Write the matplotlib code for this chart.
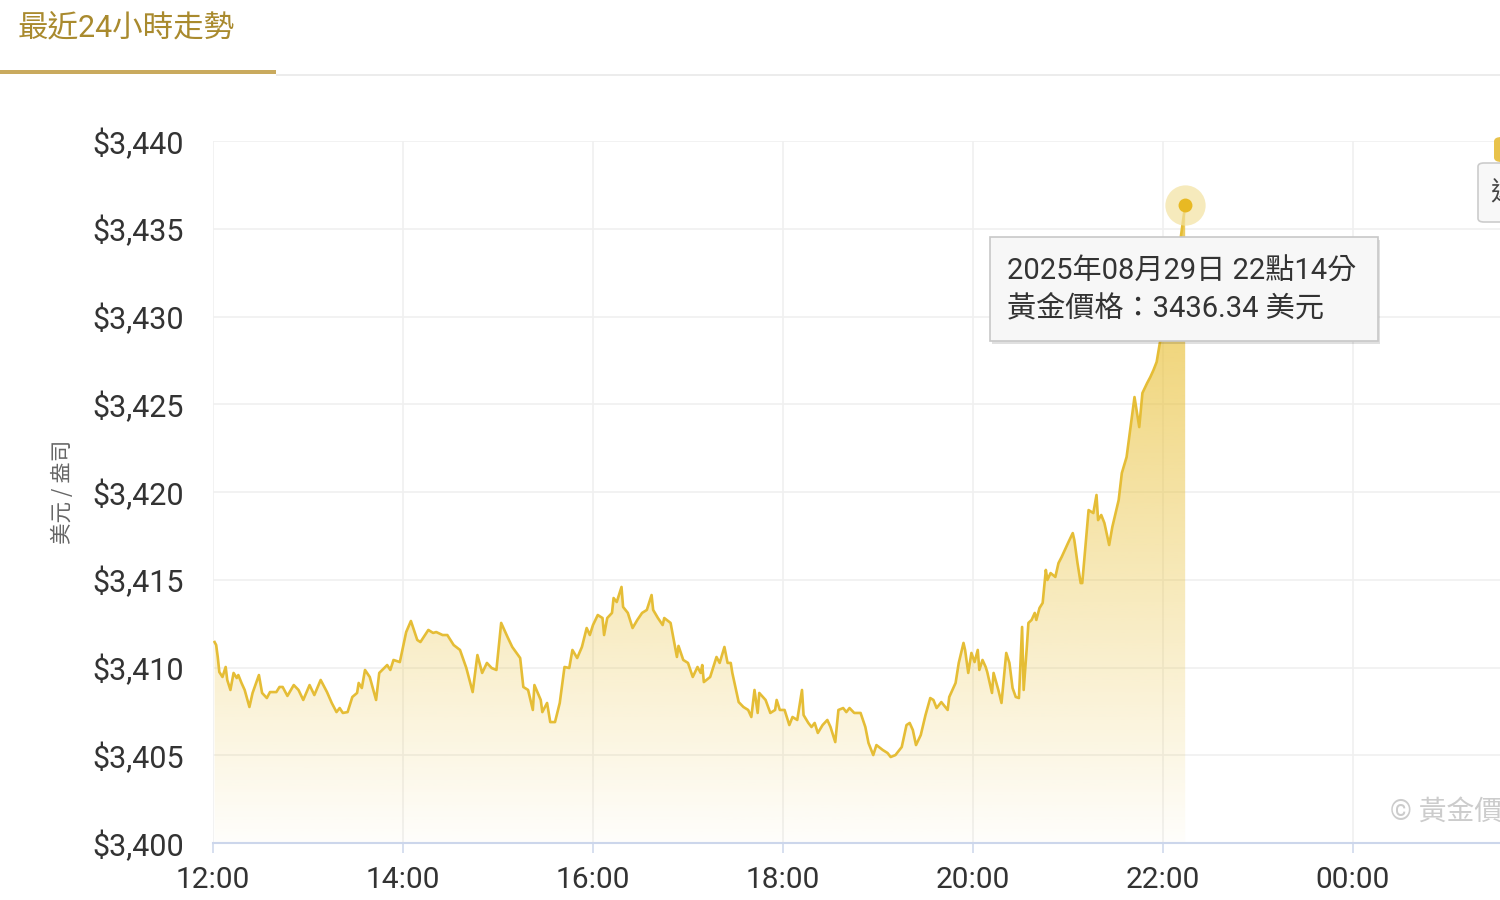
import numpy as np
import matplotlib
matplotlib.use('Agg')
import matplotlib.pyplot as plt
from matplotlib.patches import FancyBboxPatch, Rectangle

plt.rcParams['font.family'] = ['Roboto', 'Noto Sans CJK TC', 'DejaVu Sans']

# 分鐘 (從 12:00 起算) 與 黃金價格 (美元/盎司)
minutes = [1, 2, 3, 4, 6, 8, 9, 11, 13, 15, 16, 18, 20, 23, 25, 29, 31, 34, 36, 40,
           42, 44, 47, 51, 54, 57, 61, 64, 68, 72, 75, 78, 80, 82, 85, 88, 91, 92, 94, 96,
           99, 103, 105, 110, 112, 114, 118, 122, 125, 129, 131, 136, 139, 141, 145, 148, 152, 156, 160, 164,
           167, 170, 173, 176, 179, 182, 186, 189, 194, 196, 199, 202, 203, 207, 208, 211, 213, 216, 219, 222,
           225, 227, 230, 233, 236, 238, 240, 243, 246, 247, 249, 252, 253, 255, 258, 259, 262, 265, 268, 271,
           274, 277, 278, 281, 284, 285, 289, 293, 294, 297, 300, 303, 306, 308, 309, 310, 314, 318, 320, 323,
           325, 327, 328, 332, 335, 338, 340, 342, 344, 345, 349, 352, 355, 356, 358, 361, 364, 366, 369, 372,
           373, 376, 378, 380, 382, 385, 388, 390, 393, 395, 398, 400, 402, 405, 409, 412, 414, 417, 419, 423,
           426, 428, 431, 435, 438, 440, 442, 444, 447, 450, 453, 455, 457, 460, 464, 465, 469, 471, 474, 475,
           477, 479, 481, 483, 484, 486, 488, 489, 492, 493, 496, 498, 500, 501, 503, 505, 507, 509, 511, 512,
           514, 515, 517, 519, 520, 522, 524, 526, 527, 529, 532, 534, 536, 538, 540, 543, 544, 546, 548, 549,
           551, 553, 556, 558, 559, 561, 563, 566, 568, 572, 574, 577, 579, 582, 585, 587, 590, 592, 594, 596,
           598, 601, 604, 608, 611, 614]
prices = [3411.45, 3411.28, 3410.60, 3409.74, 3409.46, 3410.03, 3409.29, 3408.72, 3409.69, 3409.40,
          3409.57, 3409.12, 3408.72, 3407.75, 3408.55, 3409.57, 3408.55, 3408.26, 3408.60, 3408.60,
          3408.89, 3408.89, 3408.38, 3409.00, 3408.72, 3408.15, 3409.00, 3408.43, 3409.29, 3408.60,
          3407.98, 3407.46, 3407.69, 3407.41, 3407.46, 3408.32, 3408.55, 3409.12, 3408.83, 3409.86,
          3409.46, 3408.15, 3409.69, 3410.14, 3409.86, 3410.43, 3410.31, 3412.02, 3412.65, 3411.57,
          3411.45, 3412.14, 3411.97, 3412.02, 3411.85, 3411.85, 3411.28, 3411.00, 3409.97, 3408.60,
          3410.71, 3409.69, 3410.26, 3409.97, 3409.86, 3412.54, 3411.74, 3411.17, 3410.54, 3408.89,
          3408.72, 3407.58, 3409.00, 3408.15, 3407.46, 3407.98, 3406.89, 3406.89, 3407.98, 3410.03,
          3409.97, 3411.00, 3410.54, 3411.17, 3412.25, 3411.85, 3412.42, 3412.99, 3412.82, 3411.85,
          3412.82, 3413.11, 3413.96, 3413.73, 3414.59, 3413.45, 3413.11, 3412.25, 3412.71, 3413.11,
          3413.28, 3414.13, 3413.28, 3412.82, 3412.42, 3412.82, 3412.54, 3410.60, 3411.23, 3410.43,
          3410.26, 3409.46, 3410.03, 3409.69, 3410.14, 3409.17, 3409.46, 3410.60, 3410.26, 3411.17,
          3410.26, 3410.26, 3409.69, 3408.03, 3407.75, 3407.58, 3407.18, 3408.72, 3407.41, 3408.55,
          3408.15, 3407.41, 3407.58, 3408.15, 3407.58, 3407.58, 3406.72, 3407.18, 3407.01, 3408.72,
          3407.29, 3406.84, 3406.61, 3406.84, 3406.27, 3406.72, 3407.01, 3406.61, 3405.75, 3407.58,
          3407.69, 3407.46, 3407.69, 3407.41, 3407.41, 3406.61, 3405.70, 3405.01, 3405.58, 3405.30,
          3405.13, 3404.90, 3405.01, 3405.47, 3406.72, 3406.84, 3406.44, 3405.58, 3406.15, 3407.29,
          3408.26, 3408.15, 3407.69, 3408.03, 3407.58, 3408.32, 3409.12, 3410.26, 3411.40, 3411.00,
          3409.69, 3410.83, 3410.31, 3411.00, 3409.86, 3410.43, 3410.03, 3409.74, 3408.55, 3409.69,
          3408.72, 3407.98, 3409.86, 3410.83, 3410.26, 3408.83, 3408.32, 3408.26, 3412.31, 3408.72,
          3411.17, 3412.54, 3412.71, 3413.11, 3412.71, 3413.39, 3413.68, 3415.56, 3414.99, 3415.38,
          3415.16, 3415.95, 3416.30, 3416.70, 3417.09, 3417.66, 3417.26, 3415.95, 3414.81, 3414.81,
          3416.87, 3418.97, 3418.80, 3419.83, 3418.40, 3418.69, 3418.23, 3416.98, 3418.01, 3419.54,
          3421.08, 3421.99, 3423.36, 3425.41, 3423.70, 3425.64, 3426.21, 3426.55, 3426.95, 3427.41,
          3428.49, 3429.52, 3430.94, 3432.65, 3434.36, 3436.34]

xtick_pos = [0, 120, 240, 360, 480, 600, 720]
xtick_labels = ['12:00', '14:00', '16:00', '18:00', '20:00', '22:00', '00:00']
ytick_vals = [3400, 3405, 3410, 3415, 3420, 3425, 3430, 3435, 3440]

W, H = 1500, 900
fig = plt.figure(figsize=(15, 9), dpi=100)
fig.patch.set_facecolor('white')

# 標題 + 底線
fig.text(18 / W, 1 - 28 / H, '最近24小時走勢', fontsize=22, color='#a98a2e', va='center', ha='left')
fig.add_artist(Rectangle((0, 1 - 74 / H), 276 / W, 4 / H, transform=fig.transFigure,
                         facecolor='#c9aa5e', edgecolor='none'))
fig.add_artist(Rectangle((276 / W, 1 - 76 / H), 1 - 276 / W, 2 / H, transform=fig.transFigure,
                         facecolor='#ececec', edgecolor='none'))

ax = fig.add_axes([213 / W, 57 / H, (W - 213) / W, 702 / H])
xmax = (W - 213) / 95 * 60
ax.set_xlim(0, xmax)
ax.set_ylim(3400, 3440)

line_col = '#e5bd36'

# 漸層填色
poly = ax.fill_between(minutes, prices, 3400, facecolor='none', edgecolor='none')
grad = np.zeros((256, 1, 4))
grad[:, 0, 0] = 233 / 255
grad[:, 0, 1] = 192 / 255
grad[:, 0, 2] = 55 / 255
grad[:, 0, 3] = np.linspace(0.02, 0.9, 256)
im = ax.imshow(grad, extent=[0, minutes[-1], 3400, 3440], origin='lower', aspect='auto', zorder=2)
im.set_clip_path(poly.get_paths()[0], transform=ax.transData)
ax.set_xlim(0, xmax)
ax.set_ylim(3400, 3440)

ax.plot(minutes, prices, color=line_col, lw=1.9, zorder=3)

# 最後一點
ax.plot(minutes[-1], prices[-1], 'o', ms=29, color='#f3e2a0', alpha=0.7, mec='none', zorder=4)
ax.plot(minutes[-1], prices[-1], 'o', ms=10, color='#e8b923', mec='none', zorder=5)

ax.set_xticks(xtick_pos)
ax.set_xticklabels(xtick_labels)
ax.set_yticks(ytick_vals)
ax.set_yticklabels([f'${v:,}' for v in ytick_vals])
ax.grid(True, color='#f0f0f0', lw=1.2, zorder=0)
ax.set_axisbelow(True)
for s in ['top', 'right', 'left']:
    ax.spines[s].set_visible(False)
ax.spines['bottom'].set_color('#ccd6eb')
ax.spines['bottom'].set_linewidth(1.5)
ax.tick_params(axis='x', length=7.5, width=1.1, color='#ccd6eb', labelsize=21.5, labelcolor='#333333', pad=9)
ax.tick_params(axis='y', length=0, labelsize=22, labelcolor='#333333', pad=21)
ax.set_ylabel('美元 / 盎司', fontsize=15.5, color='#666666', labelpad=13, family=['Noto Sans CJK TC'])

# tooltip
bx0, by0, bx1, by1 = 990, 237, 1378, 341
fig.add_artist(Rectangle((bx0 / W + 2 / W, 1 - by1 / H - 3 / H), (bx1 - bx0) / W, (by1 - by0) / H,
                         transform=fig.transFigure, facecolor='#000000', alpha=0.12, edgecolor='none', zorder=9))
fig.add_artist(Rectangle((bx0 / W, 1 - by1 / H), (bx1 - bx0) / W, (by1 - by0) / H,
                         transform=fig.transFigure, facecolor='#f7f7f7', edgecolor='#c8c8c8', lw=1.2, zorder=10))
last_m = minutes[-1]
hh = 12 + last_m // 60
mm = last_m % 60
fig.text(1007 / W, 1 - 272 / H, f'2025年08月29日 {hh}點{mm}分', fontsize=21, color='#333333',
         va='center', ha='left', zorder=11)
fig.text(1007 / W, 1 - 308 / H, f'黃金價格：{prices[-1]:.2f} 美元', fontsize=21, color='#333333',
         va='center', ha='left', zorder=11)

# 右上角被截斷的按鈕
fig.add_artist(FancyBboxPatch((1494 / W, 1 - 162 / H), 20 / W, 25 / H, boxstyle='round,pad=0,rounding_size=0.005',
                              transform=fig.transFigure, facecolor='#e8c24a', edgecolor='none', zorder=10))
fig.add_artist(FancyBboxPatch((1478 / W, 1 - 222 / H), 40 / W, 59 / H, boxstyle='round,pad=0,rounding_size=0.004',
                              transform=fig.transFigure, facecolor='#f8f8f8', edgecolor='#cccccc', lw=1.2, zorder=11))
fig.text(1490 / W, 1 - 193 / H, '近期', fontsize=19, color='#444444', va='center', ha='left', zorder=12)

# 浮水印
fig.text(1390 / W, 1 - 812 / H, '© 黃金價格', fontsize=20, color='#cccccc', va='center', ha='left')

fig.savefig('out.png', dpi=100)
